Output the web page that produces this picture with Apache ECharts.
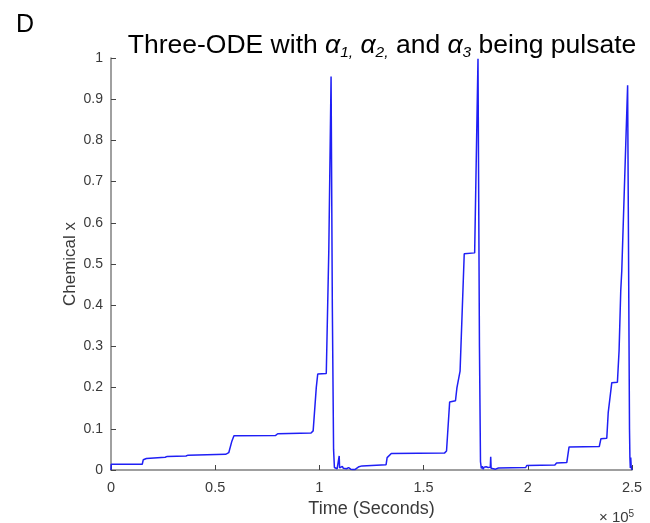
<!DOCTYPE html>
<html>
<head>
<meta charset="utf-8">
<script src="https://cdn.jsdelivr.net/npm/echarts@6/dist/echarts.min.js"></script>
<style>
html,body{margin:0;padding:0;background:#fff;}
#chart{width:650px;height:523px;}
</style>
</head>
<body>
<div id="chart"></div>
<script>
// Time in units of 1e5 seconds
var timeVals = [
  0, 0.001, 0.15, 0.155, 0.17, 0.26, 0.27, 0.36, 0.37, 0.55, 0.565, 0.58, 0.59, 0.79, 0.80, 0.96, 0.97, 0.985, 0.992, 1.033,
  1.045, 1.056, 1.062, 1.068, 1.072, 1.076, 1.08, 1.085, 1.09, 1.093, 1.095, 1.097, 1.10, 1.105, 1.11, 1.115, 1.12, 1.13,
  1.14, 1.15, 1.16, 1.17, 1.19, 1.205, 1.21, 1.32, 1.325, 1.345, 1.60, 1.61, 1.615, 1.625, 1.653, 1.66, 1.675, 1.695,
  1.745, 1.761, 1.768, 1.773, 1.777, 1.781, 1.786, 1.79, 1.795, 1.80, 1.806, 1.81, 1.815, 1.82, 1.822, 1.824, 1.83, 1.835,
  1.84, 1.845, 1.85, 1.859, 1.99, 1.995, 2.13, 2.138, 2.187, 2.198, 2.343, 2.351, 2.379, 2.386, 2.403, 2.430, 2.438,
  2.446, 2.451, 2.458, 2.479, 2.488, 2.490, 2.492, 2.494, 2.496, 2.498, 2.5
];
var chemicalX = [
  0, 0.014, 0.014, 0.025, 0.028, 0.031, 0.033, 0.034, 0.036, 0.038, 0.042, 0.07, 0.083, 0.084, 0.088, 0.09, 0.095, 0.2, 0.233, 0.234,
  0.53, 0.955, 0.4, 0.05, 0.006, 0.002, 0.008, 0.003, 0.007, 0.004, 0.034, 0.005, 0.008, 0.003, 0.009, 0.004, 0.007, 0.003,
  0.006, 0.002, 0.001, 0.001, 0.008, 0.010, 0.012, 0.013, 0.03, 0.04, 0.041, 0.046, 0.05, 0.165, 0.168, 0.2, 0.24, 0.525,
  0.527, 0.998, 0.3, 0.02, 0.004, 0.009, 0.002, 0.007, 0.003, 0.008, 0.004, 0.006, 0.002, 0.007, 0.032, 0.004, 0.008, 0.003,
  0.006, 0.002, 0.004, 0.005, 0.006, 0.011, 0.012, 0.017, 0.018, 0.056, 0.057, 0.076, 0.077, 0.14, 0.212, 0.213, 0.29,
  0.435, 0.484, 0.486, 0.934, 0.1, 0.03, 0.005, 0.03, 0.01, 0.002, 0.0
];
var yTicks = [0, 0.1, 0.2, 0.3, 0.4, 0.5, 0.6, 0.7, 0.8, 0.9, 1];
var xTicks = [0, 0.5, 1, 1.5, 2, 2.5];

var seriesData = timeVals.map(function (t, i) { return [t, chemicalX[i]]; });

var chart = echarts.init(document.getElementById('chart'), null, {renderer: 'canvas'});
var font = '"Liberation Sans", Arial, sans-serif';
var axisGray = '#808080';
var labelGray = '#3a3a3a';

chart.setOption({
  animation: false,
  backgroundColor: '#ffffff',
  title: [
    {
      text: 'D',
      left: 11, top: 8,
      textStyle: {fontFamily: font, fontSize: 25, fontWeight: 'normal', color: '#000'}
    },
    {
      text: 'Three-ODE with {a|α}{s|1,} {a|α}{s|2,} and {a|α}{s|3} being pulsate',
      left: 377, top: 26, textAlign: 'center',
      textStyle: {
        fontFamily: font, fontSize: 26.5, fontWeight: 'normal', color: '#000', lineHeight: 30,
        rich: {
          a: {fontFamily: font, fontSize: 26.5, fontStyle: 'italic', color: '#000', lineHeight: 30},
          s: {fontFamily: font, fontSize: 15.5, fontStyle: 'italic', color: '#000', lineHeight: 18, verticalAlign: 'bottom'}
        }
      }
    },
    {
      text: '× 10{sup|5}',
      left: 594, top: 504,
      textStyle: {
        fontFamily: font, fontSize: 15, fontWeight: 'normal', color: labelGray, lineHeight: 18,
        rich: {sup: {fontFamily: font, fontSize: 10, color: labelGray, lineHeight: 11, verticalAlign: 'top'}}
      }
    }
  ],
  grid: {left: 111, right: 18, top: 58, bottom: 53, containLabel: false, outerBoundsMode: 'none'},
  xAxis: {
    type: 'value', min: 0, max: 2.5, interval: 0.5,
    name: 'Time (Seconds)', nameLocation: 'middle', nameGap: 30, nameMoveOverlap: false,
    nameTextStyle: {fontFamily: font, fontSize: 18, color: labelGray},
    axisLine: {show: true, lineStyle: {color: axisGray, width: 1.5}},
    axisTick: {show: true, inside: true, length: 5, lineStyle: {color: '#444', width: 1}},
    axisLabel: {fontFamily: font, fontSize: 14.5, color: labelGray, margin: 10,
      formatter: function (v) { return xTicks.indexOf(Math.round(v * 10) / 10) >= 0 ? String(v) : ''; }},
    splitLine: {show: false}
  },
  yAxis: {
    type: 'value', min: 0, max: 1, interval: 0.1,
    name: 'Chemical x', nameLocation: 'middle', nameGap: 32, nameRotate: 90, nameMoveOverlap: false,
    nameTextStyle: {fontFamily: font, fontSize: 17, color: labelGray},
    axisLine: {show: true, lineStyle: {color: axisGray, width: 1.5}},
    axisTick: {show: true, inside: true, length: 5, lineStyle: {color: '#444', width: 1}},
    axisLabel: {fontFamily: font, fontSize: 14, color: labelGray, margin: 8,
      formatter: function (v) { var r = Math.round(v * 10) / 10; return yTicks.indexOf(r) >= 0 ? String(r) : ''; }},
    splitLine: {show: false}
  },
  series: [{
    type: 'line',
    data: seriesData,
    showSymbol: false,
    symbol: 'none',
    lineStyle: {color: '#1f1ff5', width: 1.5},
    clip: true
  }]
});
</script>
</body>
</html>
